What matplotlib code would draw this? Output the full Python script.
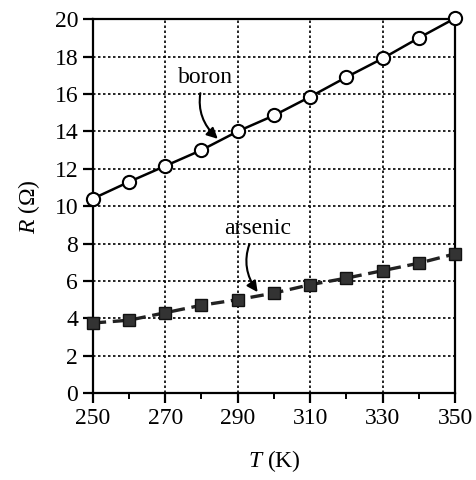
import numpy as np
import matplotlib
matplotlib.use("Agg")
import matplotlib.pyplot as plt

plt.rcParams['font.family'] = ['Liberation Serif', 'DejaVu Serif']
plt.rcParams['mathtext.fontset'] = 'custom'
plt.rcParams['mathtext.it'] = 'Liberation Serif:italic'
plt.rcParams['mathtext.rm'] = 'Liberation Serif'

# temperatura (K) y resistencia (ohm)
T = [250, 260, 270, 280, 290, 300, 310, 320, 330, 340, 350]
R_boron = [10.4, 11.3, 12.15, 13.0, 14.0, 14.85, 15.85, 16.9, 17.9, 19.0, 20.05]
R_arsenic = [3.75, 3.9, 4.3, 4.7, 5.0, 5.35, 5.8, 6.15, 6.55, 6.95, 7.45]

x_major = [250, 270, 290, 310, 330, 350]
x_minor = [260, 280, 300, 320, 340]
y_major = list(range(0, 21, 2))

fig = plt.figure(figsize=(4.76, 4.80), dpi=100)
ax = fig.add_axes([0.195, 0.181, 0.761, 0.779])

ax.plot(T, R_boron, color='black', lw=1.8, marker='o', ms=9.5,
        mfc='white', mec='black', mew=1.5, clip_on=False, zorder=4)
ax.plot(T, R_arsenic, color='#222222', lw=2.4, ls=(0, (4, 2)), marker='s', ms=8,
        mfc='#333333', mec='#111111', mew=1, clip_on=False, zorder=4)

ax.set_xlim(250, 350)
ax.set_ylim(0, 20)
ax.set_xticks(x_major)
ax.set_xticks(x_minor, minor=True)
ax.set_yticks(y_major)
ax.grid(True, which='major', color='black', lw=1.2, ls=(0, (1.5, 1.5)))
ax.set_axisbelow(True)

ax.tick_params(axis='both', which='major', direction='out', length=7, width=1.6,
               labelsize=17, colors='black')
ax.tick_params(axis='x', which='minor', direction='out', length=4, width=1.4)
for s in ax.spines.values():
    s.set_linewidth(1.6)

ax.set_xlabel(r'$T$ (K)', fontsize=17, labelpad=14)
ax.set_ylabel(r'$R$ ($\Omega$)', fontsize=17, labelpad=9)

flecha = dict(arrowstyle='-|>', color='black', lw=1.5, mutation_scale=16,
              shrinkA=2, shrinkB=0, connectionstyle='arc3,rad=0.35')
ax.annotate('boron', xy=(284.5, 13.6), xytext=(281, 16.9), fontsize=17,
            ha='center', va='center', arrowprops=flecha)
ax.annotate('arsenic', xy=(295.5, 5.4), xytext=(295.5, 8.8), fontsize=17,
            ha='center', va='center', arrowprops=flecha)

fig.savefig('out.png', dpi=100)
